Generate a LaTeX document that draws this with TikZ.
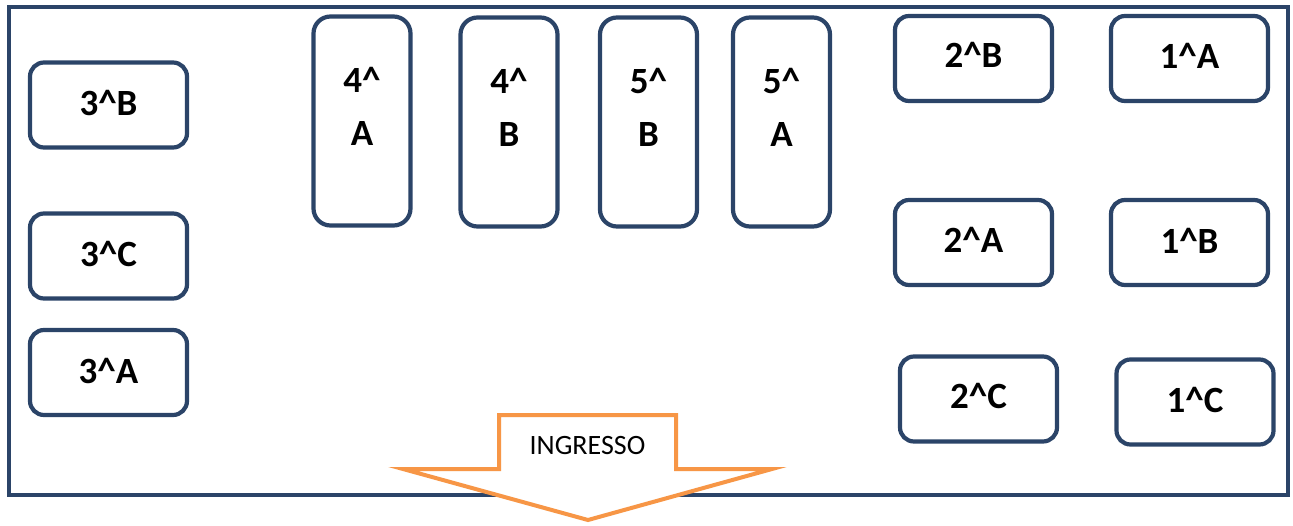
\documentclass[tikz,border=0pt]{standalone}
\usepackage{fontspec}
\setmainfont{Carlito}
\definecolor{frame}{HTML}{2B4468}
\definecolor{arroworange}{HTML}{F79646}
\begin{document}
\begin{tikzpicture}[x=1pt,y=-1pt,
  seat/.style={draw=frame, line width=4.2pt, rounded corners=14pt, fill=white, inner sep=0pt},
  wide/.style={seat, minimum width=157pt, minimum height=85pt},
  tall/.style={seat, rounded corners=17pt, minimum width=97pt, minimum height=209pt},
  lbl/.style={font=\fontsize{37}{53}\selectfont\bfseries, text=black, inner sep=0pt, align=center}]
\useasboundingbox (0,0) rectangle (1293,525);
% outer room
\draw[frame, line width=4.2pt] (9,7) rectangle (1288,495);
% left column
\node[wide] (s3B) at (108.5,105) {};
\node[lbl] (t3B) at (108.5,103) {3\textasciicircum B};
\node[wide] (s3C) at (108.5,256) {};
\node[lbl] (t3C) at (108.5,254) {3\textasciicircum C};
\node[wide] (s3A) at (108.5,372.5) {};
\node[lbl] (t3A) at (108.5,370.5) {3\textasciicircum A};
% tall desks
\node[tall] (s4A) at (362,121) {};
\node[lbl] (t4A) at (362,106) {4\textasciicircum\\A};
\node[tall] (s4B) at (509,122) {};
\node[lbl] (t4B) at (509,107) {4\textasciicircum\\B};
\node[tall] (s5B) at (648.5,122) {};
\node[lbl] (t5B) at (648.5,107) {5\textasciicircum\\B};
\node[tall] (s5A) at (781.5,122) {};
\node[lbl] (t5A) at (781.5,107) {5\textasciicircum\\A};
% right columns
\node[wide] (s2B) at (973.5,58.5) {};
\node[lbl] (t2B) at (973.5,55) {2\textasciicircum B};
\node[wide] (s1A) at (1189.5,58.5) {};
\node[lbl] (t1A) at (1189.5,56) {1\textasciicircum A};
\node[wide] (s2A) at (973.5,242.5) {};
\node[lbl] (t2A) at (973.5,240) {2\textasciicircum A};
\node[wide] (s1B) at (1189.5,242.5) {};
\node[lbl] (t1B) at (1189.5,241) {1\textasciicircum B};
\node[wide] (s2C) at (978.5,399) {};
\node[lbl] (t2C) at (978.5,396) {2\textasciicircum C};
\node[wide] (s1C) at (1195,402) {};
\node[lbl] (t1C) at (1195,400) {1\textasciicircum C};
% entrance arrow
\draw[arroworange, line width=4pt, fill=white, line join=miter]
  (499,415) -- (676,415) -- (676,469) -- (772,469) -- (588,520)
  -- (403,469) -- (499,469) -- cycle;
\node[font=\fontsize{28}{34}\selectfont, inner sep=0pt] (ingresso) at (587.5,446) {INGRESSO};
\end{tikzpicture}
\end{document}
